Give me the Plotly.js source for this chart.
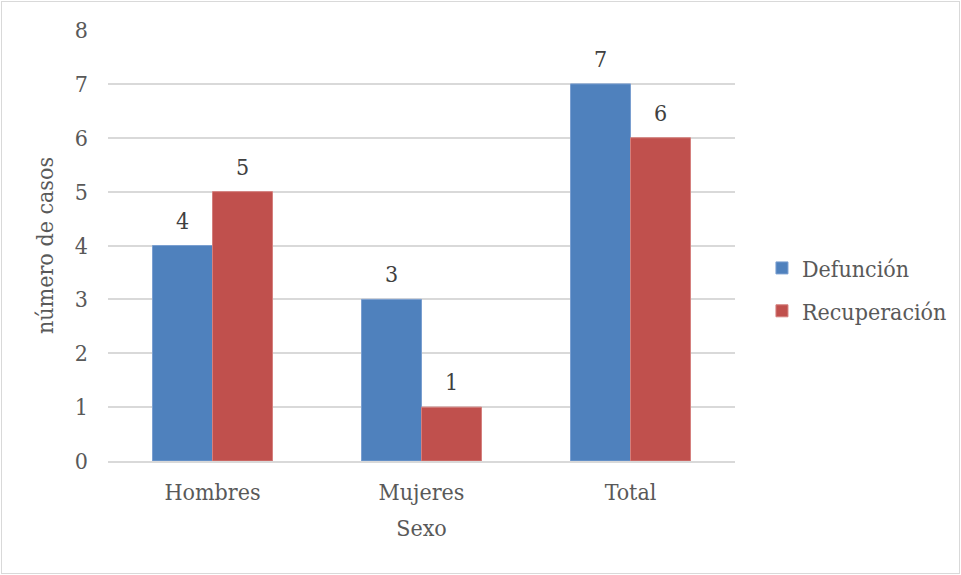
<!DOCTYPE html>
<html>
<head>
<meta charset="utf-8">
<script src="https://cdn.plot.ly/plotly-3.0.1.min.js"></script>
<style>
  html, body { margin: 0; padding: 0; background: #ffffff; }
  #frame { position: absolute; left: 1px; top: 1px; width: 957px; height: 571px; border: 1px solid #d9d9d9; }
  #chart { position: absolute; left: 0; top: 0; width: 961px; height: 575px; }
</style>
</head>
<body>
<div id="frame"></div>
<div id="chart"></div>
<script>
// Casos por sexo y desenlace
const categorias = ['Hombres', 'Mujeres', 'Total'];
const defuncion = [4, 3, 7];
const recuperacion = [5, 1, 6];
const ticksY = [0, 1, 2, 3, 4, 5, 6, 7, 8];

const fuente = '"DejaVu Serif Condensed", "DejaVu Serif", serif';
const tam = 23;
const gris = '#595959';
const azul = '#4f81bd';
const rojo = '#c0504d';

const series = [
  { name: 'Defunción', y: defuncion, color: azul, borde: '#7a9fd0' },
  { name: 'Recuperación', y: recuperacion, color: rojo, borde: '#d47f7d' }
];

const bargap = 0.426;
const traces = series.map((s, k) => ({
  type: 'bar',
  name: s.name,
  x: categorias,
  y: s.y,
  marker: { color: s.color, line: { color: s.borde, width: 1 } },
  legendgroup: 'g' + k,
  hoverinfo: 'x+y+name'
}));

// Etiquetas de valor sobre cada barra, centradas en su barra del grupo
const anchoBarra = (1 - bargap) / series.length;
const annotations = [];
series.forEach((s, k) => {
  const desplaz = (k - (series.length - 1) / 2) * anchoBarra;
  s.y.forEach((v, i) => {
    annotations.push({
      xref: 'x', yref: 'y', x: i + desplaz, y: v,
      text: String(v), showarrow: false,
      yanchor: 'bottom', yshift: 10,
      font: { family: fuente, size: tam, color: '#404040' }
    });
  });
});

const layout = {
  width: 961, height: 575,
  margin: { l: 108, r: 226, t: 30, b: 114, autoexpand: false },
  paper_bgcolor: 'rgba(0,0,0,0)',
  plot_bgcolor: '#ffffff',
  barmode: 'group',
  bargap: bargap,
  bargroupgap: 0,
  font: { family: fuente, size: tam, color: gris },
  xaxis: {
    type: 'category',
    showgrid: false,
    showline: true, linecolor: '#d9d9d9', linewidth: 2,
    ticks: '',
    ticklabelstandoff: 9,
    tickfont: { family: fuente, size: tam, color: gris },
    title: { text: 'Sexo', font: { family: fuente, size: tam, color: gris }, standoff: 16 }
  },
  yaxis: {
    range: [0, 8],
    tickvals: ticksY,
    showgrid: true, gridcolor: '#d9d9d9', gridwidth: 2,
    zeroline: false,
    showline: false,
    ticks: '',
    ticklabelstandoff: 19,
    tickfont: { family: fuente, size: tam, color: gris },
    title: { text: 'número de casos', font: { family: fuente, size: tam, color: gris }, standoff: 14 }
  },
  legend: {
    x: 1.043, xanchor: 'left', y: 0.398, yanchor: 'middle',
    traceorder: 'grouped', tracegroupgap: 10,
    itemwidth: 30,
    font: { family: fuente, size: tam, color: gris },
    bgcolor: 'rgba(0,0,0,0)'
  },
  annotations: annotations,
  showlegend: true
};

Plotly.newPlot('chart', traces, layout, { displayModeBar: false, staticPlot: true });
</script>
</body>
</html>
